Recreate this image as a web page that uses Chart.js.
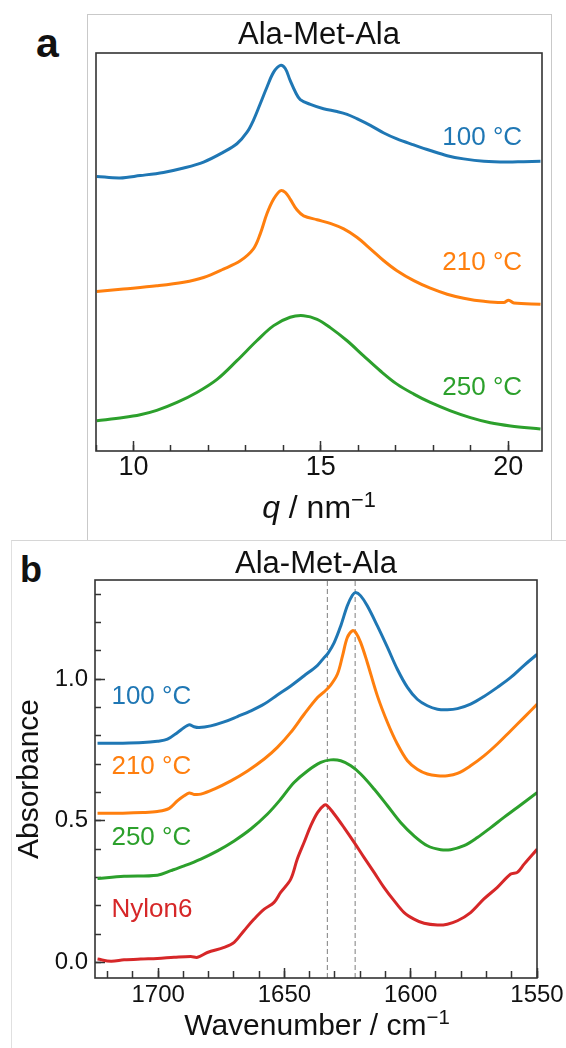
<!DOCTYPE html>
<html>
<head>
<meta charset="utf-8">
<script src="https://cdn.jsdelivr.net/npm/chart.js@4.4.1/dist/chart.umd.min.js"></script>
<style>
  html, body { margin: 0; padding: 0; background: #fff; }
  body { width: 566px; height: 1048px; position: relative; overflow: hidden;
         font-family: 'Liberation Sans', Arial, sans-serif; color: #111; }
  canvas { position: absolute; left: 0; }
  #xrd { top: 0; }
  #ftir { top: 540px; }
  #frameA { position: absolute; box-sizing: border-box; left: 87px; top: 14px; width: 465px; height: 527px;
            border: 1px solid #c9c9c9; }
  #frameB { position: absolute; box-sizing: border-box; left: 11px; top: 540px; width: 570px; height: 520px;
            border-left: 1px solid #e0e0e0; border-top: 1px solid #d6d6d6; }
  .panel { position: absolute; font-weight: bold; line-height: 1; }
  .xtitle { position: absolute; width: 400px; text-align: center; line-height: 1; white-space: nowrap; }
  sup { font-size: 0.68em; vertical-align: 0.52em; line-height: 0; }
</style>
</head>
<body>
<div id="frameA"></div>
<div id="frameB"></div>
<div class="panel" style="left:36px; top:23px; font-size:41px;">a</div>
<div class="panel" style="left:20px; top:552px; font-size:36px;">b</div>
<canvas id="xrd" width="566" height="540"></canvas>
<canvas id="ftir" width="566" height="508"></canvas>
<div class="xtitle" style="left:119px; top:491px; font-size:32px;"><i>q</i> / nm<sup>−1</sup></div>
<div class="xtitle" style="left:117px; top:1010px; font-size:30px;">Wavenumber / cm<sup>−1</sup></div>

<script>
// --- X-ray scattering profiles (q in nm^-1, intensity offset per temperature) ---
const q100 = [9.02, 9.64, 10.18, 10.80, 11.34, 11.87, 12.40, 12.76, 13.03, 13.20, 13.38, 13.56, 13.74, 13.92, 14.05, 14.18, 14.32, 14.45, 14.72, 15.07, 15.43, 15.70, 15.96, 16.32, 16.68, 17.03, 17.48, 17.92, 18.37, 18.81, 19.35, 19.97, 20.41, 20.86];
const int100 = [6.90, 6.86, 6.92, 7.00, 7.11, 7.26, 7.51, 7.72, 8.01, 8.31, 8.72, 9.14, 9.52, 9.69, 9.61, 9.31, 9.02, 8.83, 8.71, 8.60, 8.53, 8.46, 8.35, 8.18, 7.99, 7.84, 7.69, 7.55, 7.42, 7.34, 7.28, 7.26, 7.27, 7.28];

const q210 = [9.02, 9.73, 10.62, 11.34, 11.87, 12.40, 12.85, 13.20, 13.38, 13.56, 13.74, 13.92, 14.05, 14.18, 14.36, 14.54, 14.90, 15.25, 15.61, 15.96, 16.32, 16.68, 17.03, 17.48, 17.92, 18.37, 18.81, 19.35, 19.88, 20.01, 20.15, 20.86];
const int210 = [4.01, 4.07, 4.15, 4.24, 4.36, 4.57, 4.78, 5.08, 5.45, 5.96, 6.33, 6.54, 6.50, 6.33, 6.06, 5.91, 5.81, 5.72, 5.58, 5.37, 5.08, 4.78, 4.53, 4.28, 4.09, 3.94, 3.84, 3.76, 3.73, 3.79, 3.72, 3.69];

const q250 = [9.02, 9.73, 10.18, 10.62, 11.16, 11.69, 12.23, 12.76, 13.29, 13.74, 14.18, 14.54, 14.90, 15.25, 15.70, 16.14, 16.59, 17.03, 17.48, 17.92, 18.46, 18.99, 19.52, 20.06, 20.86];
const int250 = [0.76, 0.84, 0.91, 1.02, 1.22, 1.47, 1.80, 2.27, 2.77, 3.15, 3.36, 3.40, 3.31, 3.10, 2.77, 2.39, 2.01, 1.68, 1.43, 1.22, 1.01, 0.84, 0.71, 0.63, 0.55];

// --- IR absorbance in the amide I region (wavenumber in cm^-1) ---
const wn100 = [1724, 1714, 1706, 1700.3, 1696.3, 1692.3, 1689.7, 1687.7, 1685.8, 1683.8, 1679.2, 1673.9, 1668.6, 1663.3, 1658.0, 1652.8, 1647.5, 1642.2, 1636.9, 1634.3, 1632.7, 1630.3, 1627.7, 1625.1, 1623.1, 1621.8, 1619.8, 1617.2, 1613.2, 1609.2, 1605.3, 1601.3, 1597.4, 1593.4, 1589.4, 1585.5, 1581.5, 1576.3, 1571.0, 1565.7, 1560.4, 1555.1, 1549.9];
const abs100 = [0.774, 0.774, 0.776, 0.781, 0.788, 0.812, 0.829, 0.839, 0.832, 0.829, 0.835, 0.849, 0.868, 0.888, 0.912, 0.944, 0.976, 1.012, 1.049, 1.076, 1.092, 1.129, 1.188, 1.259, 1.296, 1.306, 1.294, 1.259, 1.188, 1.112, 1.035, 0.971, 0.929, 0.906, 0.894, 0.892, 0.896, 0.912, 0.939, 0.971, 1.006, 1.049, 1.088];

const wn210 = [1724, 1714, 1706, 1700.3, 1695.6, 1692.3, 1689.7, 1687.7, 1685.8, 1683.1, 1677.8, 1671.2, 1664.6, 1658.0, 1652.8, 1647.5, 1642.2, 1636.9, 1634.3, 1631.7, 1629.0, 1627.0, 1625.1, 1623.1, 1621.8, 1619.8, 1617.2, 1613.2, 1609.2, 1605.3, 1601.3, 1597.4, 1593.4, 1589.4, 1585.5, 1581.5, 1576.3, 1571.0, 1565.7, 1560.4, 1555.1, 1549.9];
const abs210 = [0.527, 0.527, 0.529, 0.533, 0.544, 0.571, 0.588, 0.598, 0.593, 0.594, 0.612, 0.641, 0.676, 0.718, 0.759, 0.812, 0.876, 0.935, 0.955, 0.979, 1.018, 1.082, 1.147, 1.171, 1.165, 1.129, 1.059, 0.941, 0.847, 0.771, 0.712, 0.682, 0.665, 0.659, 0.659, 0.667, 0.694, 0.729, 0.771, 0.818, 0.865, 0.912];

const wn250 = [1724, 1713.5, 1700.3, 1695.0, 1689.7, 1683.1, 1676.5, 1669.9, 1663.3, 1656.7, 1651.5, 1646.2, 1640.9, 1635.6, 1631.7, 1627.7, 1623.7, 1619.8, 1614.5, 1609.2, 1604.0, 1598.7, 1593.4, 1588.1, 1584.2, 1578.9, 1573.6, 1568.3, 1563.1, 1557.8, 1549.9];
const abs250 = [0.296, 0.304, 0.308, 0.324, 0.341, 0.365, 0.394, 0.429, 0.471, 0.524, 0.576, 0.635, 0.676, 0.706, 0.715, 0.712, 0.694, 0.665, 0.612, 0.553, 0.494, 0.447, 0.412, 0.398, 0.398, 0.412, 0.441, 0.476, 0.512, 0.547, 0.600];

const wnNylon = [1724, 1718.7, 1713.5, 1706.9, 1700.3, 1693.7, 1687.1, 1684.4, 1680.5, 1673.9, 1669.9, 1666.0, 1662.0, 1658.0, 1654.1, 1651.5, 1647.5, 1644.9, 1642.2, 1639.6, 1636.9, 1634.3, 1633.0, 1630.3, 1626.4, 1622.4, 1618.5, 1614.5, 1610.6, 1606.6, 1602.6, 1598.7, 1594.7, 1589.4, 1585.5, 1581.5, 1576.3, 1571.0, 1565.7, 1560.4, 1557.8, 1555.1, 1549.9];
const absNylon = [0.012, 0.004, 0.009, 0.012, 0.014, 0.018, 0.021, 0.018, 0.035, 0.053, 0.071, 0.112, 0.153, 0.188, 0.212, 0.247, 0.294, 0.365, 0.424, 0.482, 0.529, 0.555, 0.553, 0.524, 0.476, 0.424, 0.371, 0.318, 0.265, 0.218, 0.176, 0.153, 0.138, 0.132, 0.135, 0.147, 0.176, 0.224, 0.265, 0.312, 0.318, 0.347, 0.400];

// band positions marked with dashed lines (cm^-1)
const bandLines = [1633, 1622];

const namesA = ['100 °C', '210 °C', '250 °C'];
const namesB = ['100 °C', '210 °C', '250 °C', 'Nylon6'];
const palette = ['#1f77b4', '#ff7f0e', '#2ca02c', '#d62728'];

const FONT = "'Liberation Sans', Arial, sans-serif";
Chart.defaults.font.family = FONT;
Chart.defaults.color = '#111';

const toPoints = (xs, ys) => xs.map((x, i) => ({ x: x, y: ys[i] }));

// box round the plot area
const frameBox = {
  id: 'frameBox',
  afterDraw(chart) {
    const { ctx, chartArea: a } = chart;
    ctx.save();
    ctx.strokeStyle = '#333';
    ctx.lineWidth = 1.6;
    ctx.strokeRect(a.left, a.top, a.right - a.left, a.bottom - a.top);
    ctx.restore();
  }
};

// series names written next to each curve, placed in data units
const curveLabels = {
  id: 'curveLabels',
  afterDatasetsDraw(chart, args, opts) {
    const { ctx, scales } = chart;
    ctx.save();
    ctx.font = opts.size + 'px ' + FONT;
    ctx.textBaseline = 'middle';
    ctx.textAlign = opts.align;
    opts.items.forEach((it, i) => {
      ctx.fillStyle = palette[i];
      ctx.fillText(it.text, scales.x.getPixelForValue(it.x), scales.y.getPixelForValue(it.y));
    });
    ctx.restore();
  }
};

const tickGrid = len => ({ drawOnChartArea: false, tickLength: len, tickWidth: 1.5, tickColor: '#333' });

// fixed axis band; edge labels may hang past the plot without shrinking it
const fixHeight = h => s => { s.height = h; s.paddingLeft = 0; s.paddingRight = 0; };

// ---------- a: scattering profiles ----------
const xrdSeries = [[q100, int100], [q210, int210], [q250, int250]];

new Chart(document.getElementById('xrd'), {
  type: 'line',
  data: {
    datasets: xrdSeries.map((s, i) => ({
      label: namesA[i],
      data: toPoints(s[0], s[1]),
      borderColor: palette[i]
    }))
  },
  options: {
    responsive: false,
    animation: false,
    layout: { padding: { left: 0, right: 24, top: 0, bottom: 0 } },
    elements: {
      point: { radius: 0 },
      line: { borderWidth: 3, tension: 0.35 }
    },
    plugins: {
      legend: { display: false },
      tooltip: { enabled: false },
      title: {
        display: true, text: 'Ala-Met-Ala', fullSize: false, color: '#111',
        font: { size: 31, weight: 'normal', lineHeight: 1 },
        padding: { top: 20, bottom: 2 }
      },
      curveLabels: {
        size: 26, align: 'right',
        items: [
          { text: namesA[0], x: 20.37, y: 7.86 },
          { text: namesA[1], x: 20.37, y: 4.72 },
          { text: namesA[2], x: 20.37, y: 1.58 }
        ]
      }
    },
    scales: {
      xMinor: {
        type: 'linear', axis: 'x', position: 'bottom', weight: 0, min: 9, max: 20.9,
        ticks: { display: false, stepSize: 1, includeBounds: false },
        grid: tickGrid(-6), border: { display: false },
        afterFit: fixHeight(0)
      },
      x: {
        type: 'linear', position: 'bottom', weight: 1, min: 9, max: 20.9,
        ticks: { stepSize: 5, includeBounds: false, color: '#111', font: { size: 27 }, padding: 10,
                 callback: v => String(v) },
        grid: tickGrid(-10), border: { display: false },
        afterFit: fixHeight(89)
      },
      y: {
        position: 'left', min: 0, max: 10,
        ticks: { display: false }, grid: { display: false }, border: { display: false },
        afterFit: s => { s.width = 96; }
      }
    }
  },
  plugins: [frameBox, curveLabels]
});

// ---------- b: IR absorbance ----------
const ftirSeries = [[wn100, abs100], [wn210, abs210], [wn250, abs250], [wnNylon, absNylon]];
const yMin = -0.055, yMax = 1.35;

const bandSets = bandLines.map(b => ({
  data: [{ x: b, y: yMin }, { x: b, y: yMax }],
  borderColor: '#8a8a8a',
  borderWidth: 1.1,
  borderDash: [5, 3],
  tension: 0,
  order: 5
}));

new Chart(document.getElementById('ftir'), {
  type: 'line',
  data: {
    datasets: ftirSeries.map((s, i) => ({
      label: namesB[i],
      data: toPoints(s[0], s[1]),
      borderColor: palette[i],
      order: 1
    })).concat(bandSets)
  },
  options: {
    responsive: false,
    animation: false,
    layout: { padding: { left: 0, right: 29, top: 0, bottom: 0 } },
    elements: {
      point: { radius: 0 },
      line: { borderWidth: 3, tension: 0.35 }
    },
    plugins: {
      legend: { display: false },
      tooltip: { enabled: false },
      title: {
        display: true, text: 'Ala-Met-Ala', fullSize: false, color: '#111',
        font: { size: 31, weight: 'normal', lineHeight: 1 },
        padding: { top: 9, bottom: 0 }
      },
      curveLabels: {
        size: 26, align: 'left',
        items: [
          { text: namesB[0], x: 1718.5, y: 0.937 },
          { text: namesB[1], x: 1718.5, y: 0.690 },
          { text: namesB[2], x: 1718.5, y: 0.439 },
          { text: namesB[3], x: 1718.5, y: 0.186 }
        ]
      }
    },
    scales: {
      xMinor: {
        type: 'linear', axis: 'x', position: 'bottom', weight: 0, reverse: true, min: 1550, max: 1725,
        ticks: { display: false, stepSize: 10, includeBounds: false },
        grid: tickGrid(-7), border: { display: false },
        afterFit: fixHeight(0)
      },
      x: {
        type: 'linear', position: 'bottom', weight: 1, reverse: true, min: 1550, max: 1725,
        ticks: { stepSize: 50, includeBounds: false, color: '#111', font: { size: 24 }, padding: 13,
                 callback: v => String(v) },
        grid: tickGrid(-10), border: { display: false },
        afterFit: fixHeight(70)
      },
      yMinor: {
        type: 'linear', axis: 'y', position: 'left', weight: 0, min: yMin, max: yMax,
        ticks: { display: false, stepSize: 0.1, includeBounds: false },
        grid: tickGrid(-6), border: { display: false },
        afterFit: s => { s.width = 0; }
      },
      y: {
        position: 'left', weight: 1, min: yMin, max: yMax,
        ticks: {
          stepSize: 0.5, includeBounds: false, color: '#111', font: { size: 24 }, padding: 17,
          callback: v => v.toFixed(1)
        },
        grid: tickGrid(-10), border: { display: false },
        title: { display: true, text: 'Absorbance', color: '#111', font: { size: 30 }, padding: { top: 12, bottom: 0 } },
        afterFit: s => { s.width = 95; }
      }
    }
  },
  plugins: [frameBox, curveLabels]
});
</script>
</body>
</html>
